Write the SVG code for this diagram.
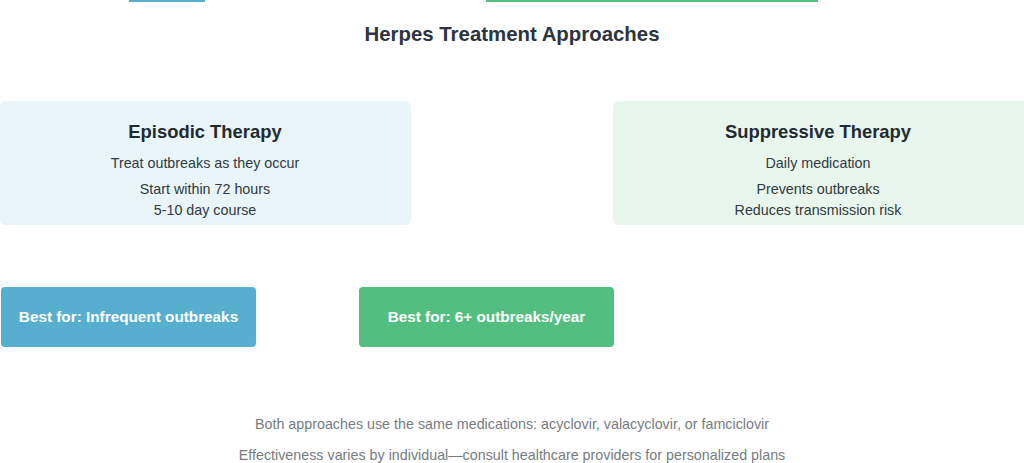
<svg xmlns="http://www.w3.org/2000/svg" width="1024" height="463" viewBox="0 0 1024 463">
<style>
text{font-family:"Liberation Sans",Arial,sans-serif;text-anchor:middle}
.title{font-size:20.4px;font-weight:bold;fill:#2c3440}
.h{font-size:18.4px;font-weight:bold;fill:#1f2a33}
.t{font-size:14.3px;fill:#2f3a42}
.b{font-size:15.3px;font-weight:bold;fill:#ffffff}
.f{font-size:14.3px;fill:#777c80}
</style>
<rect width="1024" height="463" fill="#ffffff"/>
<rect x="129" y="0" width="76" height="2" fill="#56afcf"/>
<rect x="486" y="0" width="332" height="2" fill="#52bf80"/>
<text class="title" x="512" y="41">Herpes Treatment Approaches</text>
<g id="episodic">
<rect x="0" y="101" width="411" height="124" rx="6" fill="#e9f5f8"/>
<text class="h" x="205" y="138">Episodic Therapy</text>
<text class="t" x="205" y="168">Treat outbreaks as they occur</text>
<text class="t" x="205" y="194">Start within 72 hours</text>
<text class="t" x="205" y="215">5-10 day course</text>
</g>
<g id="suppressive">
<rect x="613" y="101" width="416" height="124" rx="6" fill="#e9f6ee"/>
<text class="h" x="818" y="138">Suppressive Therapy</text>
<text class="t" x="818" y="168">Daily medication</text>
<text class="t" x="818" y="194">Prevents outbreaks</text>
<text class="t" x="818" y="215">Reduces transmission risk</text>
</g>
<g id="best-episodic">
<rect x="1" y="287" width="255" height="60" rx="4" fill="#56afcf"/>
<text class="b" x="128.5" y="322">Best for: Infrequent outbreaks</text>
</g>
<g id="best-suppressive">
<rect x="359" y="287" width="255" height="60" rx="4" fill="#52bf80"/>
<text class="b" x="486.5" y="322">Best for: 6+ outbreaks/year</text>
</g>
<g id="connectors"></g>
<g id="notes">
<text class="f" x="512" y="429">Both approaches use the same medications: acyclovir, valacyclovir, or famciclovir</text>
<text class="f" x="512" y="460">Effectiveness varies by individual—consult healthcare providers for personalized plans</text>
</g>
</svg>
